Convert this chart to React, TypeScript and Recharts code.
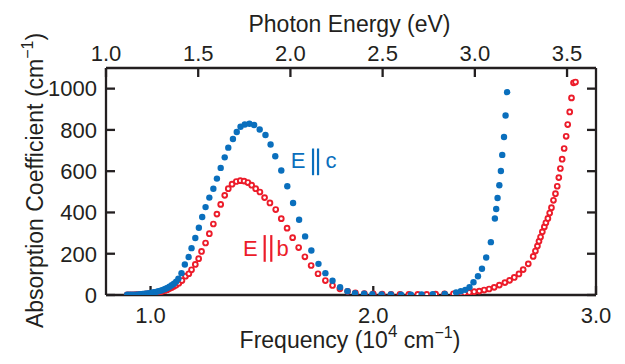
import React from "react";
import { ScatterChart, Scatter, XAxis, YAxis, ReferenceDot } from "recharts";

// E || c  (filled blue)
const ecFreq = [
  0.895, 0.905, 0.915, 0.925, 0.935, 0.945, 0.955, 0.965, 0.975, 0.985, 0.995,
  1.005, 1.015, 1.025, 1.035, 1.045, 1.055, 1.065, 1.075, 1.085, 1.095, 1.105,
  1.115, 1.125, 1.139, 1.154, 1.171, 1.184, 1.201, 1.217, 1.232, 1.247, 1.264,
  1.282, 1.298, 1.315, 1.333, 1.349, 1.37, 1.387, 1.404, 1.423, 1.444, 1.465,
  1.49, 1.516, 1.539, 1.56, 1.587, 1.614, 1.64, 1.667, 1.694, 1.722, 1.754,
  1.785, 1.817, 1.851, 1.884, 1.918, 1.959, 1.996, 2.037, 2.079, 2.125, 2.169,
  2.217, 2.267, 2.321, 2.372, 2.393, 2.413, 2.432, 2.45, 2.47, 2.488, 2.507,
  2.528, 2.546, 2.552, 2.558, 2.566, 2.573, 2.579, 2.587, 2.594, 2.601,
];
const ecAbs = [
  1, 1, 1, 2, 2, 3, 4, 5, 6, 7, 9,
  11, 13, 15, 18, 21, 25, 29, 34, 40, 47, 55,
  65, 79, 106, 148, 184, 227, 276, 326, 378, 426, 472,
  515, 564, 616, 667, 714, 756, 790, 815, 826, 830, 824,
  802, 775, 729, 672, 603, 527, 446, 365, 284, 216, 151,
  106, 69, 38, 18, 9, 6, 4, 3, 3, 2, 2,
  3, 4, 5, 12, 18, 25, 38, 62, 91, 127, 182,
  256, 371, 417, 470, 532, 601, 679, 766, 870, 983,
];

// E || b  (open red)
const ebFreq = [
  0.895, 0.905, 0.915, 0.925, 0.935, 0.945, 0.955, 0.965, 0.975, 0.985, 0.995,
  1.005, 1.015, 1.025, 1.035, 1.045, 1.055, 1.065, 1.075, 1.085, 1.095, 1.105,
  1.115, 1.127, 1.141, 1.157, 1.172, 1.184, 1.201, 1.216, 1.229, 1.247, 1.264,
  1.282, 1.298, 1.315, 1.333, 1.349, 1.366, 1.385, 1.403, 1.42, 1.437, 1.454,
  1.472, 1.491, 1.512, 1.536, 1.562, 1.587, 1.613, 1.638, 1.665, 1.693, 1.721,
  1.752, 1.785, 1.817, 1.85, 1.885, 1.92, 1.96, 2.0, 2.04, 2.08, 2.12, 2.16,
  2.2, 2.24, 2.28, 2.32, 2.36, 2.395, 2.41, 2.431, 2.453, 2.476, 2.498, 2.52,
  2.543, 2.566, 2.591, 2.612, 2.633, 2.654, 2.673, 2.696, 2.718, 2.728, 2.737,
  2.744, 2.751, 2.759, 2.768, 2.775, 2.784, 2.792, 2.8, 2.809, 2.818, 2.826,
  2.833, 2.84, 2.848, 2.857, 2.866, 2.873, 2.882, 2.89, 2.899, 2.908,
];
const ebAbs = [
  1, 1, 1, 1, 2, 2, 3, 3, 4, 5, 6,
  7, 9, 11, 13, 16, 19, 22, 26, 31, 36, 42,
  48, 57, 70, 91, 103, 122, 148, 176, 211, 252, 297,
  344, 392, 439, 483, 515, 537, 550, 554, 552, 545, 532,
  515, 499, 472, 446, 414, 370, 324, 278, 230, 185, 143,
  103, 70, 46, 30, 18, 11, 7, 5, 4, 3, 3, 3,
  3, 3, 4, 5, 6, 8, 10, 12, 16, 19, 24, 29,
  37, 48, 60, 71, 85, 102, 123, 151, 187, 213, 237,
  260, 281, 306, 330, 350, 371, 397, 423, 459, 491, 527,
  569, 613, 658, 710, 769, 826, 887, 955, 1028, 1032,
];

const freqTicks = [1.0, 2.0, 3.0];
const energyTicks = [1.0, 1.5, 2.0, 2.5, 3.0, 3.5];
const absTicks = [0, 200, 400, 600, 800, 1000];

const freqDomain = [0.8, 3.0];
const energyDomain = [1.0, 3.657];
const absDomain = [0, 1100];

// annotation anchors (frequency, absorption)
const labelC = { x: 1.629, y: 613 };
const labelB = { x: 1.415, y: 191 };

const BLUE = "#0a6fbd";
const RED = "#ec1c2a";
const INK = "#231f20";
const FONT = "'Liberation Sans', Arial, Helvetica, sans-serif";

const ecData = ecFreq.map((x, i) => ({ x, y: ecAbs[i] }));
const ebData = ebFreq.map((x, i) => ({ x, y: ebAbs[i] }));

const BlueDot = (p: any) => <circle cx={p.cx} cy={p.cy} r={3.2} fill={BLUE} />;
const RedRing = (p: any) => (
  <circle cx={p.cx} cy={p.cy} r={2.4} fill="#ffffff" stroke={RED} strokeWidth={1.9} />
);

const axisStyle = { stroke: INK, strokeWidth: 2.3 };
const tickStyle = { fontSize: 22, fill: INK, fontFamily: FONT };

const TopTitle = (props: any) => {
  const vb = props.viewBox || { x: 106, y: 0, width: 490, height: 68 };
  return (
    <text x={vb.x + vb.width / 2 - 1.5} y={vb.y + 32} textAnchor="middle" fontSize={23} fill={INK} fontFamily={FONT}>
      Photon Energy (eV)
    </text>
  );
};

const BottomTitle = (props: any) => {
  const vb = props.viewBox || { x: 106, y: 295, width: 490, height: 69 };
  return (
    <text x={vb.x + vb.width / 2 - 1} y={vb.y + 53} textAnchor="middle" fontSize={23} fill={INK} fontFamily={FONT}>
      Frequency (10
      <tspan fontSize={17} dy={-11}>4</tspan>
      <tspan dy={11}> cm</tspan>
      <tspan fontSize={16} dy={-10}>−1</tspan>
      <tspan dy={10}>)</tspan>
    </text>
  );
};

const LeftTitle = (props: any) => {
  const vb = props.viewBox || { x: 0, y: 68, width: 106, height: 227 };
  const cx = 43;
  const cy = vb.y + vb.height / 2 - 1;
  return (
    <text x={cx} y={cy} transform={`rotate(-90, ${cx}, ${cy})`} textAnchor="middle" fontSize={23} fill={INK} fontFamily={FONT}>
      Absorption Coefficient (cm
      <tspan fontSize={16} dy={-10}>−1</tspan>
      <tspan dy={10}>)</tspan>
    </text>
  );
};

const makeAnnot = (
  first: string,
  last: string,
  color: string,
  bar1: number,
  bar2: number,
  lastX: number,
  top: number,
  bottom: number
) => (props: any) => {
  const vb = props.viewBox || { x: 0, y: 0, width: 0, height: 0 };
  const x = vb.x + vb.width / 2;
  const y = vb.y + vb.height / 2;
  return (
    <g>
      <text x={x} y={y} fontSize={22} fill={color} fontFamily={FONT}>
        {first}
      </text>
      <line x1={x + bar1} x2={x + bar1} y1={y - top} y2={y + bottom} stroke={color} strokeWidth={2.2} />
      <line x1={x + bar2} x2={x + bar2} y1={y - top} y2={y + bottom} stroke={color} strokeWidth={2.2} />
      <text x={x + lastX} y={y} fontSize={22} fill={color} fontFamily={FONT}>
        {last}
      </text>
    </g>
  );
};

const AnnotC = makeAnnot("E", "c", BLUE, 22.4, 27.4, 34.8, 20, 6.7);
const AnnotB = makeAnnot("E", "b", RED, 21.7, 28.3, 33.6, 20.5, 6.2);

export default function App() {
  return (
    <div style={{ width: 625, height: 364 }}>
      <style>{"body{margin:0;}"}</style>
      <ScatterChart width={625} height={364} margin={{ top: 0, right: 0, bottom: 0, left: 0 }}>
        <XAxis
          xAxisId="bottom"
          dataKey="x"
          type="number"
          orientation="bottom"
          domain={freqDomain}
          ticks={freqTicks}
          allowDataOverflow
          height={69}
          tickSize={-9}
          tickMargin={21}
          tickFormatter={(v: number) => v.toFixed(1)}
          axisLine={axisStyle}
          tickLine={axisStyle}
          tick={tickStyle}
          label={BottomTitle}
        />
        <XAxis
          xAxisId="top"
          dataKey="x"
          type="number"
          orientation="top"
          domain={energyDomain}
          ticks={energyTicks}
          allowDataOverflow
          height={68}
          tickSize={-9}
          tickMargin={16}
          tickFormatter={(v: number) => v.toFixed(1)}
          axisLine={axisStyle}
          tickLine={axisStyle}
          tick={tickStyle}
          label={TopTitle}
        />
        <YAxis
          yAxisId="left"
          dataKey="y"
          type="number"
          orientation="left"
          domain={absDomain}
          ticks={absTicks}
          allowDataOverflow
          width={106}
          tickSize={-9}
          tickMargin={18}
          axisLine={axisStyle}
          tickLine={axisStyle}
          tick={tickStyle}
          label={LeftTitle}
        />
        <YAxis
          yAxisId="right"
          dataKey="y"
          type="number"
          orientation="right"
          domain={absDomain}
          ticks={absTicks}
          allowDataOverflow
          width={29}
          tickSize={-9}
          tickMargin={4}
          tickFormatter={() => ""}
          axisLine={axisStyle}
          tickLine={axisStyle}
          tick={tickStyle}
        />
        <Scatter data={[]} xAxisId="top" yAxisId="right" isAnimationActive={false} />
        <Scatter data={ebData} xAxisId="bottom" yAxisId="left" shape={RedRing} isAnimationActive={false} />
        <Scatter data={ecData} xAxisId="bottom" yAxisId="left" shape={BlueDot} isAnimationActive={false} />
        <ReferenceDot x={labelC.x} y={labelC.y} xAxisId="bottom" yAxisId="left" r={1} fill="none" stroke="none" label={AnnotC} />
        <ReferenceDot x={labelB.x} y={labelB.y} xAxisId="bottom" yAxisId="left" r={1} fill="none" stroke="none" label={AnnotB} />
      </ScatterChart>
    </div>
  );
}
